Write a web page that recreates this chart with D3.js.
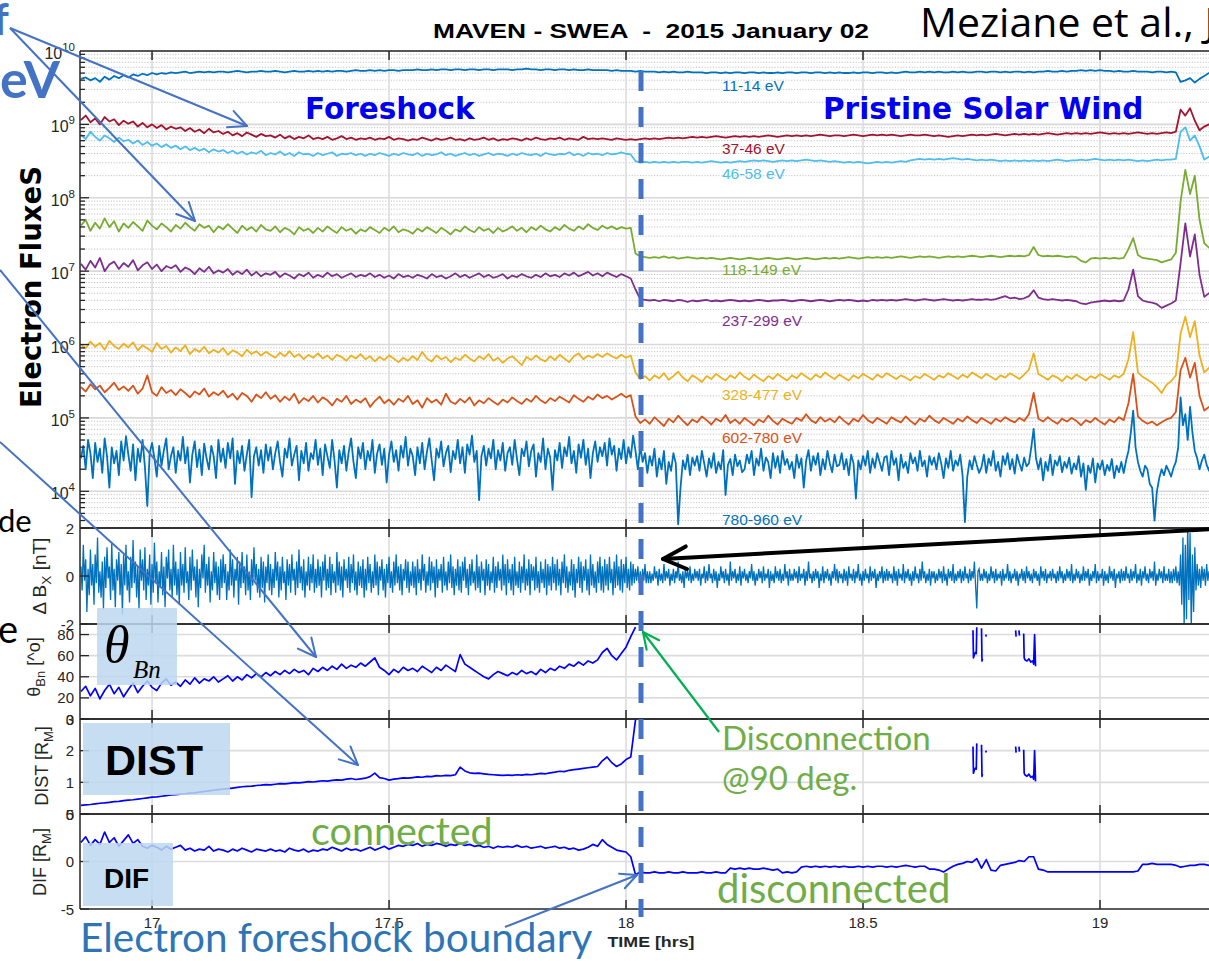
<!DOCTYPE html>
<html>
<head>
<meta charset="utf-8">
<script src="https://cdn.jsdelivr.net/npm/d3@7"></script>
<style>
  body { margin: 0; background: #fff; }
  svg { display: block; }
</style>
</head>
<body>
<svg id="chart" width="1209" height="961"></svg>
<script>
// ---------------------------------------------------------------
// MAVEN SWEA electron fluxes and magnetic connection parameters,
// 2015 January 02, 16.85 - 19.25 UT (hours).
// ---------------------------------------------------------------

// Sampling cadences (hours)
const sampleStart = 16.85;
const sampleStep = 0.01;     // most flux channels, DIF, θBn, DIST
const fastFluxStep = 0.005;  // 780-960 eV channel
const bxStep = 0.0025;       // ΔBx

// Energy channel names
const energyBands = ["11-14 eV", "37-46 eV", "46-58 eV", "118-149 eV",
                     "237-299 eV", "328-477 eV", "602-780 eV", "780-960 eV"];

// log10 of electron flux per channel (241 samples at 0.01 h)
const fluxLog11to14 = [
  9.62,9.64,9.60,9.63,9.58,9.65,9.61,9.66,9.63,9.67,
  9.64,9.68,9.66,9.69,9.67,9.70,9.68,9.70,9.69,9.71,
  9.70,9.71,9.72,9.70,9.71,9.72,9.71,9.72,9.71,9.72,
  9.72,9.71,9.72,9.73,9.72,9.71,9.72,9.72,9.73,9.72,
  9.72,9.73,9.72,9.71,9.72,9.73,9.72,9.72,9.73,9.72,
  9.73,9.72,9.73,9.72,9.73,9.73,9.72,9.73,9.74,9.73,
  9.73,9.74,9.73,9.74,9.73,9.74,9.74,9.73,9.74,9.74,
  9.74,9.75,9.74,9.74,9.75,9.74,9.75,9.75,9.74,9.75,
  9.75,9.74,9.75,9.75,9.74,9.75,9.75,9.74,9.75,9.75,
  9.75,9.74,9.75,9.75,9.76,9.75,9.75,9.74,9.75,9.75,
  9.74,9.75,9.75,9.74,9.75,9.74,9.74,9.75,9.74,9.74,
  9.74,9.74,9.73,9.74,9.73,9.73,9.73,9.72,9.73,9.72,
  9.72,9.72,9.71,9.72,9.71,9.72,9.71,9.71,9.72,9.71,
  9.71,9.71,9.70,9.71,9.71,9.70,9.71,9.70,9.71,9.71,
  9.70,9.71,9.71,9.70,9.71,9.70,9.70,9.71,9.70,9.71,
  9.71,9.70,9.71,9.71,9.70,9.71,9.71,9.70,9.71,9.70,
  9.71,9.70,9.70,9.71,9.70,9.71,9.71,9.70,9.71,9.71,
  9.70,9.71,9.70,9.71,9.72,9.71,9.71,9.72,9.71,9.72,
  9.71,9.72,9.71,9.71,9.72,9.71,9.72,9.71,9.71,9.72,
  9.72,9.71,9.72,9.72,9.71,9.72,9.71,9.72,9.72,9.71,
  9.72,9.71,9.72,9.72,9.73,9.72,9.72,9.73,9.72,9.73,
  9.73,9.74,9.73,9.74,9.73,9.74,9.73,9.73,9.72,9.73,
  9.72,9.72,9.73,9.72,9.72,9.72,9.71,9.72,9.72,9.71,
  9.72,9.71,9.58,9.60,9.63,9.57,9.62,9.66,9.70,9.71,
  9.71];

const fluxLog37to46 = [
  9.06,9.12,9.03,9.08,9.00,9.10,9.04,9.07,8.99,9.05,
  9.01,9.04,8.97,9.02,8.96,9.00,8.95,8.99,8.93,8.97,
  8.94,8.96,8.91,8.95,8.90,8.93,8.88,8.94,8.89,8.91,
  8.87,8.90,8.85,8.88,8.84,8.89,8.86,8.83,8.87,8.84,
  8.85,8.82,8.86,8.81,8.84,8.80,8.83,8.81,8.85,8.80,
  8.82,8.80,8.83,8.79,8.81,8.84,8.80,8.82,8.79,8.81,
  8.80,8.82,8.79,8.81,8.80,8.83,8.79,8.81,8.80,8.78,
  8.80,8.79,8.82,8.80,8.78,8.81,8.79,8.80,8.82,8.79,
  8.80,8.78,8.81,8.79,8.80,8.82,8.79,8.81,8.78,8.80,
  8.79,8.81,8.80,8.78,8.81,8.79,8.82,8.80,8.79,8.81,
  8.80,8.82,8.79,8.81,8.80,8.79,8.83,8.80,8.81,8.80,
  8.81,8.80,8.79,8.81,8.80,8.79,8.80,8.79,8.80,8.81,
  8.80,8.81,8.80,8.81,8.82,8.81,8.82,8.81,8.82,8.83,
  8.82,8.83,8.82,8.83,8.84,8.83,8.82,8.83,8.84,8.83,
  8.84,8.83,8.84,8.83,8.84,8.85,8.84,8.83,8.84,8.85,
  8.84,8.85,8.84,8.85,8.84,8.85,8.86,8.85,8.84,8.85,
  8.85,8.84,8.85,8.86,8.85,8.84,8.85,8.86,8.85,8.86,
  8.85,8.86,8.85,8.84,8.85,8.86,8.85,8.85,8.86,8.85,
  8.84,8.85,8.84,8.83,8.84,8.85,8.84,8.85,8.86,8.85,
  8.86,8.85,8.86,8.87,8.86,8.85,8.86,8.87,8.86,8.87,
  8.86,8.87,8.86,8.87,8.88,8.87,8.86,8.87,8.88,8.87,
  8.88,8.87,8.88,8.87,8.88,8.89,8.88,8.87,8.88,8.87,
  8.88,8.87,8.88,8.89,8.88,8.87,8.88,8.87,8.88,8.89,
  8.88,8.90,9.20,9.12,9.22,9.05,8.92,8.97,9.00,8.96,
  9.02];

const fluxLog46to58 = [
  8.86,8.80,8.90,8.83,8.78,8.85,8.81,8.76,8.82,8.77,
  8.79,8.74,8.78,8.72,8.76,8.71,8.74,8.69,8.73,8.68,
  8.71,8.66,8.70,8.65,8.68,8.64,8.67,8.62,8.66,8.63,
  8.65,8.61,8.64,8.60,8.63,8.59,8.62,8.60,8.64,8.58,
  8.61,8.59,8.63,8.58,8.61,8.57,8.62,8.59,8.60,8.57,
  8.61,8.58,8.60,8.62,8.57,8.60,8.59,8.61,8.58,8.60,
  8.57,8.60,8.58,8.61,8.59,8.57,8.60,8.58,8.61,8.59,
  8.58,8.61,8.57,8.60,8.58,8.59,8.62,8.58,8.60,8.57,
  8.59,8.61,8.58,8.60,8.57,8.59,8.61,8.58,8.60,8.59,
  8.57,8.60,8.58,8.61,8.59,8.58,8.60,8.57,8.61,8.59,
  8.58,8.60,8.59,8.62,8.58,8.60,8.57,8.61,8.59,8.60,
  8.58,8.61,8.59,8.60,8.62,8.60,8.59,8.50,8.48,8.49,
  8.48,8.49,8.48,8.49,8.48,8.49,8.48,8.49,8.49,8.48,
  8.49,8.48,8.49,8.50,8.49,8.48,8.49,8.48,8.49,8.50,
  8.49,8.50,8.51,8.50,8.51,8.50,8.49,8.50,8.51,8.50,
  8.51,8.50,8.51,8.52,8.51,8.50,8.51,8.50,8.49,8.50,
  8.49,8.48,8.49,8.48,8.49,8.48,8.47,8.48,8.49,8.48,
  8.49,8.48,8.49,8.50,8.49,8.51,8.52,8.53,8.52,8.53,
  8.52,8.53,8.52,8.53,8.54,8.53,8.52,8.53,8.52,8.51,
  8.52,8.51,8.52,8.51,8.50,8.51,8.50,8.51,8.50,8.51,
  8.50,8.51,8.50,8.51,8.50,8.51,8.52,8.51,8.50,8.51,
  8.51,8.52,8.51,8.52,8.53,8.52,8.51,8.52,8.51,8.52,
  8.51,8.52,8.51,8.50,8.51,8.50,8.51,8.52,8.51,8.52,
  8.52,8.53,8.90,8.96,8.78,8.85,8.70,8.52,8.56,8.55,
  8.57];

const fluxLog118to149 = [
  7.62,7.70,7.55,7.66,7.58,7.72,7.60,7.68,7.54,7.65,
  7.59,7.67,7.61,7.55,7.69,7.62,7.57,7.65,7.60,7.54,
  7.63,7.58,7.66,7.60,7.55,7.64,7.59,7.62,7.53,7.61,
  7.57,7.64,7.58,7.52,7.62,7.56,7.60,7.54,7.63,7.57,
  7.55,7.61,7.53,7.59,7.56,7.50,7.60,7.55,7.58,7.52,
  7.59,7.54,7.61,7.56,7.52,7.60,7.55,7.58,7.51,7.57,
  7.54,7.60,7.56,7.52,7.59,7.55,7.61,7.53,7.57,7.55,
  7.51,7.58,7.54,7.60,7.56,7.52,7.59,7.55,7.50,7.57,
  7.54,7.61,7.56,7.53,7.60,7.55,7.58,7.52,7.59,7.54,
  7.57,7.61,7.55,7.59,7.53,7.60,7.56,7.62,7.57,7.54,
  7.60,7.56,7.63,7.58,7.55,7.61,7.57,7.64,7.59,7.56,
  7.62,7.58,7.61,7.57,7.60,7.58,7.59,7.24,7.20,7.19,
  7.18,7.19,7.18,7.20,7.18,7.19,7.17,7.18,7.19,7.18,
  7.17,7.18,7.17,7.18,7.17,7.16,7.17,7.18,7.17,7.16,
  7.17,7.18,7.17,7.16,7.17,7.18,7.17,7.16,7.17,7.18,
  7.17,7.16,7.17,7.18,7.17,7.16,7.17,7.18,7.17,7.18,
  7.17,7.18,7.19,7.18,7.17,7.18,7.19,7.18,7.19,7.18,
  7.19,7.18,7.19,7.20,7.19,7.18,7.19,7.20,7.19,7.20,
  7.19,7.18,7.19,7.20,7.19,7.20,7.19,7.20,7.21,7.20,
  7.19,7.20,7.21,7.20,7.19,7.20,7.21,7.20,7.21,7.20,
  7.22,7.33,7.22,7.20,7.21,7.20,7.21,7.20,7.19,7.20,
  7.19,7.14,7.12,7.17,7.18,7.17,7.18,7.17,7.18,7.17,
  7.18,7.30,7.45,7.22,7.18,7.17,7.16,7.15,7.12,7.14,
  7.16,7.25,7.95,8.38,8.05,8.30,7.70,7.38,7.32,7.30,
  7.31];

const fluxLog237to299 = [
  7.10,7.02,7.14,7.05,7.18,7.00,7.09,7.13,7.03,7.11,
  7.06,7.15,7.01,7.08,7.12,7.03,7.09,7.00,7.07,7.04,
  7.08,6.99,7.05,7.02,6.96,7.04,6.99,7.06,6.97,7.01,
  6.98,7.03,6.95,7.00,6.96,7.02,6.94,6.99,6.93,6.97,
  6.95,6.99,6.92,6.97,6.94,6.90,6.96,6.93,6.98,6.91,
  6.95,6.92,6.98,6.93,6.96,6.91,6.94,6.97,6.92,6.95,
  6.93,6.97,6.92,6.95,6.91,6.94,6.90,6.96,6.92,6.94,
  6.91,6.95,6.93,6.90,6.96,6.92,6.94,6.90,6.93,6.97,
  6.92,6.95,6.91,6.94,6.97,6.92,6.95,6.91,6.93,6.96,
  6.90,6.94,6.92,6.96,6.93,6.91,6.95,6.92,6.97,6.93,
  6.95,6.92,6.97,6.94,6.98,6.93,6.96,6.99,6.94,6.97,
  6.93,6.98,6.95,6.92,6.96,6.93,6.90,6.75,6.62,6.61,
  6.60,6.61,6.59,6.61,6.60,6.59,6.61,6.60,6.58,6.60,
  6.59,6.60,6.61,6.59,6.60,6.59,6.60,6.61,6.60,6.59,
  6.60,6.59,6.60,6.61,6.60,6.59,6.60,6.60,6.61,6.60,
  6.59,6.60,6.61,6.60,6.59,6.60,6.61,6.60,6.59,6.60,
  6.61,6.60,6.61,6.60,6.59,6.60,6.59,6.61,6.60,6.61,
  6.60,6.61,6.60,6.61,6.62,6.61,6.60,6.61,6.62,6.61,
  6.60,6.61,6.62,6.61,6.60,6.61,6.60,6.61,6.62,6.61,
  6.61,6.62,6.61,6.62,6.64,6.66,6.63,6.64,6.62,6.63,
  6.66,6.74,6.64,6.62,6.61,6.62,6.61,6.60,6.61,6.60,
  6.59,6.56,6.55,6.57,6.58,6.59,6.60,6.59,6.60,6.59,
  6.60,6.75,7.02,6.66,6.60,6.58,6.57,6.55,6.50,6.53,
  6.56,6.60,7.11,7.65,7.20,7.50,6.95,6.65,6.70,6.68,
  6.72];

const fluxLog328to477 = [
  6.00,5.95,6.04,5.97,6.02,5.93,6.05,5.98,5.94,6.01,
  5.96,6.03,5.92,5.99,5.95,5.90,6.02,5.94,5.98,5.89,
  5.96,5.91,5.99,5.87,5.94,5.90,5.97,5.88,5.93,5.89,
  5.95,5.86,5.92,5.89,5.84,5.93,5.87,5.91,5.85,5.90,
  5.86,5.82,5.89,5.84,5.91,5.83,5.87,5.80,5.86,5.82,
  5.88,5.81,5.85,5.79,5.86,5.83,5.78,5.85,5.81,5.87,
  5.80,5.84,5.77,5.83,5.79,5.85,5.81,5.76,5.82,5.78,
  5.84,5.79,5.90,5.81,5.77,5.85,5.80,5.83,5.76,5.82,
  5.79,5.86,5.81,5.77,5.84,5.80,5.87,5.78,5.82,5.75,
  5.81,5.84,5.78,5.72,5.83,5.79,5.85,5.80,5.77,5.84,
  5.79,5.86,5.81,5.76,5.84,5.88,5.80,5.85,5.82,5.87,
  5.83,5.88,5.84,5.81,5.86,5.82,5.85,5.62,5.53,5.57,
  5.51,5.58,5.54,5.61,5.52,5.57,5.63,5.55,5.50,5.58,
  5.54,5.49,5.57,5.53,5.60,5.55,5.51,5.58,5.54,5.62,
  5.56,5.52,5.59,5.54,5.50,5.57,5.53,5.60,5.55,5.51,
  5.58,5.54,5.61,5.56,5.52,5.59,5.55,5.62,5.57,5.53,
  5.59,5.55,5.51,5.58,5.54,5.60,5.56,5.52,5.59,5.55,
  5.61,5.57,5.53,5.58,5.55,5.51,5.57,5.54,5.60,5.56,
  5.52,5.58,5.55,5.61,5.57,5.53,5.59,5.55,5.62,5.58,
  5.54,5.60,5.56,5.52,5.58,5.55,5.61,5.57,5.53,5.59,
  5.66,5.88,5.60,5.56,5.52,5.58,5.55,5.50,5.57,5.53,
  5.59,5.55,5.51,5.57,5.54,5.60,5.56,5.52,5.58,5.55,
  5.60,5.80,6.17,5.62,5.56,5.52,5.48,5.42,5.34,5.45,
  5.50,5.58,6.15,6.38,6.10,6.32,5.85,5.62,5.68,5.64,
  5.65];

const fluxLog602to780 = [
  5.42,5.36,5.46,5.39,5.44,5.35,5.41,5.48,5.38,5.43,
  5.37,5.44,5.33,5.40,5.58,5.35,5.30,5.42,5.34,5.38,
  5.31,5.39,5.34,5.28,5.36,5.32,5.40,5.29,5.35,5.31,
  5.37,5.28,5.33,5.25,5.34,5.30,5.22,5.32,5.27,5.35,
  5.26,5.31,5.22,5.29,5.24,5.33,5.20,5.27,5.23,5.30,
  5.21,5.28,5.24,5.17,5.26,5.22,5.30,5.19,5.25,5.21,
  5.27,5.15,5.23,5.29,5.20,5.25,5.18,5.26,5.22,5.30,
  5.19,5.24,5.14,5.27,5.21,5.25,5.18,5.33,5.22,5.19,
  5.26,5.21,5.28,5.17,5.24,5.20,5.27,5.22,5.18,5.25,
  5.21,5.28,5.23,5.19,5.26,5.22,5.30,5.24,5.20,5.27,
  5.23,5.29,5.25,5.21,5.31,5.26,5.22,5.29,5.25,5.32,
  5.27,5.30,5.25,5.29,5.33,5.28,5.31,5.02,4.93,4.98,
  4.92,5.01,4.95,4.89,4.99,4.94,5.03,4.96,4.90,4.98,
  4.94,5.02,4.97,4.91,4.99,4.95,5.04,4.93,4.98,4.92,
  5.00,4.95,4.90,4.98,4.94,5.03,4.96,4.91,4.99,4.95,
  4.92,5.00,4.96,5.05,4.97,4.93,5.01,4.95,4.99,4.94,
  5.02,4.96,4.91,4.99,4.95,5.04,4.97,4.93,5.00,4.96,
  4.92,5.01,4.97,4.94,5.02,4.96,4.91,4.99,4.95,5.03,
  4.97,4.93,5.00,4.96,4.92,4.99,4.95,5.02,4.97,4.93,
  5.00,4.96,4.92,4.99,4.95,5.01,4.97,4.94,5.00,4.96,
  5.05,5.34,4.99,4.95,5.01,4.96,4.92,4.99,4.95,5.00,
  4.96,4.90,4.97,4.94,5.00,4.95,4.91,4.98,4.94,5.01,
  4.97,5.20,5.60,5.02,4.96,4.92,4.95,4.90,4.94,4.98,
  5.00,5.08,5.65,5.82,5.55,5.75,5.30,5.10,5.15,5.08,
  5.10];

// 780-960 eV at 0.005 h (481 samples)
const fluxLog780to960 = [
  4.45,4.62,4.30,4.70,4.52,4.18,4.66,4.40,4.58,4.25,4.72,4.48,4.05,4.60,4.38,4.55,4.22,4.68,4.42,4.75,
  4.50,4.28,4.64,4.15,4.58,4.40,4.70,4.33,3.80,4.52,4.66,4.45,4.20,4.62,4.35,4.56,4.72,4.30,4.48,4.60,
  4.25,4.55,4.42,4.74,4.38,4.60,4.12,4.50,4.68,4.33,4.57,4.22,4.65,4.45,4.30,4.62,4.48,4.18,4.70,4.40,
  4.58,4.32,4.66,4.45,4.72,4.10,4.55,4.38,4.62,4.28,4.50,4.70,3.92,4.48,4.60,4.35,4.56,4.25,4.64,4.42,
  4.60,4.30,4.52,4.68,4.40,4.20,4.58,4.46,4.72,4.35,4.50,4.62,4.15,4.55,4.38,4.66,4.28,4.52,4.44,4.70,
  4.36,4.58,4.22,4.64,4.48,4.32,4.70,4.42,4.05,4.56,4.38,4.62,4.28,4.54,4.72,4.40,4.18,4.60,4.45,4.66,
  4.30,4.55,4.42,4.70,4.25,4.52,4.64,4.36,4.58,4.12,4.50,4.68,4.40,4.56,4.28,4.62,4.46,4.74,4.35,4.58,
  4.48,4.22,4.60,4.38,4.66,4.30,4.54,4.72,4.42,4.15,4.58,4.46,4.68,4.34,4.52,4.62,4.26,4.55,4.44,4.70,
  4.38,4.60,4.25,4.64,4.50,4.76,4.40,4.55,3.88,4.48,4.62,4.35,4.58,4.45,4.70,4.30,4.56,4.42,4.66,4.28,
  4.52,4.60,4.36,4.70,4.44,4.22,4.58,4.48,4.68,4.34,4.55,4.64,4.20,4.52,4.40,4.72,4.30,4.58,4.46,4.02,
  4.56,4.42,4.66,4.32,4.60,4.48,4.74,4.38,4.55,4.25,4.64,4.46,4.70,4.36,4.58,4.18,4.52,4.68,4.40,4.60,
  4.48,4.66,4.35,4.72,4.50,4.62,4.28,4.58,4.44,4.70,4.38,4.60,4.46,4.76,4.55,4.30,4.62,4.40,4.52,4.25,
  4.48,4.35,4.58,4.20,4.45,4.30,4.55,4.10,4.40,4.28,4.52,4.38,3.55,4.05,4.42,4.30,4.50,4.22,4.46,4.35,
  4.48,4.28,4.55,4.38,4.20,4.45,4.32,4.52,4.25,4.40,4.30,4.56,3.95,4.36,4.44,4.22,4.50,4.34,4.42,4.26,
  4.30,4.50,4.38,4.55,4.22,4.45,4.35,4.58,4.28,4.46,4.40,4.18,4.52,4.32,4.48,4.25,4.55,4.36,4.44,4.30,
  4.40,4.18,4.50,4.32,4.45,4.05,4.42,4.56,4.28,4.48,4.36,4.52,4.22,4.44,4.30,4.55,4.38,4.26,4.50,4.34,
  4.36,4.52,4.30,4.44,4.22,4.50,4.38,3.90,4.42,4.30,4.48,4.35,4.55,4.25,4.45,4.32,4.52,4.40,4.28,4.46,
  4.48,4.22,4.55,4.36,4.45,4.15,4.50,4.32,4.40,4.25,4.52,4.38,4.46,4.28,4.55,4.34,4.42,4.20,4.48,4.36,
  4.46,4.30,4.52,4.38,4.18,4.45,4.32,4.55,4.28,4.42,4.35,4.50,4.22,3.58,4.20,4.42,4.30,4.48,4.36,4.25,
  4.33,4.50,4.25,4.45,4.35,4.55,4.28,4.40,4.20,4.48,4.36,4.52,4.30,4.44,4.24,4.50,4.38,4.28,4.46,4.34,
  4.38,4.60,4.85,4.45,4.30,4.45,4.15,4.40,4.28,4.50,4.22,4.42,4.35,4.48,4.26,4.40,4.32,4.46,4.24,4.38,
  4.30,4.48,4.20,4.38,4.02,4.35,4.25,4.45,4.12,4.38,4.30,4.42,4.22,4.36,4.28,4.44,4.18,4.35,4.26,4.40,
  4.25,4.42,4.55,4.80,5.10,4.60,4.40,4.28,4.20,4.35,4.30,4.10,4.05,3.60,4.00,4.18,4.30,4.22,4.35,4.28,
  4.20,4.32,4.40,4.60,5.28,4.90,5.05,4.70,5.15,4.80,4.55,4.45,4.30,4.42,4.50,4.36,4.28,4.44,4.35,4.40,
  4.40];

// ΔBx [nT] at 0.0025 h (961 samples)
const deltaBx = [
  0.4,-0.6,1.3,-0.2,0.7,-1.5,0.3,-0.8,1.1,-0.4,0.5,-1.2,0.9,-0.3,1.6,-0.7,0.2,-0.9,0.6,-1.4,0.8,-0.5,1.2,-0.1,0.4,-1.0,1.4,-0.6,0.3,-1.3,0.7,-0.2,1.0,-0.8,0.5,-1.6,0.9,-0.4,1.3,-0.6,
  0.2,-1.1,0.8,-0.5,1.5,-0.3,0.6,-0.9,0.4,-1.4,1.1,-0.2,0.7,-0.6,1.2,-1.0,0.3,-0.4,0.9,-1.2,0.5,-0.7,1.4,-0.3,0.6,-1.1,0.2,-0.5,1.0,-0.8,0.4,-1.3,0.8,-0.1,1.1,-0.6,0.3,-0.9,1.3,-0.4,
  0.6,-0.8,0.3,-1.2,1.0,-0.4,0.5,-0.7,1.2,-0.3,0.2,-1.0,0.8,-0.6,1.1,-0.2,0.4,-0.9,0.7,-1.3,0.3,-0.5,0.9,-0.1,1.3,-0.7,0.5,-0.4,0.8,-1.1,0.2,-0.6,1.0,-0.3,0.6,-0.8,0.4,-1.0,0.7,-0.5,
  0.9,-0.3,0.5,-1.0,0.2,-0.6,1.1,-0.4,0.7,-0.9,0.3,-0.2,0.8,-1.2,0.6,-0.5,1.0,-0.3,0.4,-0.8,0.9,-0.6,0.2,-1.0,0.7,-0.4,1.2,-0.2,0.5,-0.7,0.3,-0.9,0.8,-0.5,0.6,-1.1,0.4,-0.3,0.9,-0.6,
  0.5,-0.8,0.3,-0.5,1.0,-0.2,0.6,-0.9,0.4,-0.6,0.8,-0.3,0.2,-1.0,0.7,-0.4,0.5,-0.7,0.9,-0.2,0.3,-0.8,0.6,-0.5,1.1,-0.3,0.4,-0.6,0.7,-0.9,0.2,-0.4,0.8,-0.6,0.5,-0.3,0.9,-0.7,0.3,-0.5,
  0.7,-0.4,0.4,-0.9,0.6,-0.2,0.9,-0.6,0.3,-0.5,0.8,-0.8,0.5,-0.3,0.2,-0.7,1.0,-0.4,0.6,-0.6,0.4,-0.9,0.7,-0.2,0.3,-0.5,0.8,-0.7,0.5,-0.3,0.9,-0.6,0.2,-0.8,0.6,-0.4,0.4,-0.5,0.7,-0.9,
  0.3,-0.6,0.8,-0.3,0.5,-0.7,0.2,-0.5,0.9,-0.4,0.6,-0.8,0.4,-0.2,0.7,-0.6,0.3,-0.9,0.5,-0.3,0.8,-0.5,0.2,-0.7,0.6,-0.4,0.9,-0.3,0.4,-0.6,0.5,-0.8,0.3,-0.2,0.7,-0.5,0.6,-0.7,0.2,-0.4,
  0.6,-0.5,0.4,-0.8,0.7,-0.3,0.3,-0.6,0.9,-0.2,0.5,-0.7,0.2,-0.4,0.8,-0.6,0.6,-0.3,0.4,-0.9,0.7,-0.5,0.3,-0.2,0.5,-0.7,0.8,-0.4,0.2,-0.6,0.6,-0.3,0.9,-0.5,0.4,-0.8,0.3,-0.4,0.7,-0.6,
  0.4,-0.7,0.6,-0.2,0.8,-0.5,0.3,-0.8,0.5,-0.4,0.7,-0.3,0.2,-0.6,0.9,-0.5,0.4,-0.7,0.6,-0.2,0.3,-0.8,0.7,-0.4,0.5,-0.6,0.2,-0.3,0.8,-0.7,0.4,-0.5,0.6,-0.2,0.3,-0.6,0.9,-0.4,0.5,-0.8,
  0.7,-0.3,0.3,-0.6,0.5,-0.8,0.8,-0.4,0.2,-0.5,0.6,-0.7,0.4,-0.3,0.9,-0.6,0.3,-0.4,0.7,-0.8,0.5,-0.2,0.4,-0.6,0.8,-0.5,0.2,-0.7,0.6,-0.3,0.3,-0.5,0.7,-0.8,0.5,-0.4,0.4,-0.6,0.8,-0.3,
  0.5,-0.6,0.7,-0.4,0.3,-0.8,0.6,-0.3,0.9,-0.5,0.4,-0.7,0.2,-0.4,0.7,-0.6,0.5,-0.9,0.3,-0.3,0.8,-0.5,0.6,-0.7,0.4,-0.2,0.7,-0.6,0.3,-0.8,0.9,-0.4,0.5,-0.5,0.2,-0.7,0.6,-0.3,0.8,-0.6,
  0.4,-0.7,0.7,-0.4,0.5,-0.6,0.8,-0.3,0.3,-0.8,0.6,-0.5,0.9,-0.4,0.4,-0.6,0.7,-0.7,0.5,-0.3,0.8,-0.5,0.3,-0.6,0.6,-0.4,0.5,-0.3,0.3,-0.2,0.4,-0.3,0.2,-0.4,0.3,-0.2,0.5,-0.3,0.2,-0.3,
  0.2,-0.3,0.1,-0.2,0.4,-0.1,0.2,-0.4,0.3,-0.2,0.1,-0.3,0.5,-0.2,0.2,-0.1,0.3,-0.4,0.1,-0.2,0.3,-0.3,0.2,-0.1,0.6,-0.2,0.1,-0.3,0.2,-0.5,0.3,-0.1,0.2,-0.2,0.4,-0.3,0.1,-0.2,0.3,-0.1,
  0.2,-0.2,0.3,-0.4,0.1,-0.1,0.4,-0.3,0.2,-0.2,0.5,-0.1,0.1,-0.3,0.3,-0.2,0.2,-0.5,0.1,-0.2,0.4,-0.1,0.2,-0.3,0.3,-0.2,0.1,-0.4,0.6,-0.2,0.2,-0.1,0.3,-0.3,0.1,-0.2,0.4,-0.4,0.2,-0.1,
  0.3,-0.2,0.1,-0.3,0.2,-0.1,0.5,-0.2,0.2,-0.4,0.1,-0.2,0.3,-0.1,0.2,-0.3,0.4,-0.2,0.1,-0.1,0.3,-0.5,0.2,-0.2,0.1,-0.3,0.4,-0.1,0.2,-0.2,0.3,-0.3,0.1,-0.2,0.5,-0.1,0.2,-0.4,0.3,-0.2,
  0.1,-0.2,0.3,-0.1,0.2,-0.3,0.4,-0.2,0.1,-0.1,0.3,-0.4,0.2,-0.2,0.6,-0.1,0.1,-0.3,0.2,-0.2,0.3,-0.1,0.2,-0.5,0.1,-0.2,0.4,-0.3,0.2,-0.1,0.3,-0.2,0.1,-0.4,0.2,-0.1,0.5,-0.2,0.3,-0.3,
  0.2,-0.1,0.1,-0.3,0.3,-0.2,0.2,-0.4,0.4,-0.1,0.1,-0.2,0.3,-0.3,0.2,-0.1,0.5,-0.2,0.1,-0.4,0.2,-0.2,0.3,-0.1,0.1,-0.3,0.4,-0.2,0.2,-0.1,0.3,-0.5,0.1,-0.2,0.2,-0.1,0.4,-0.3,0.2,-0.2,
  0.3,-0.2,0.2,-0.1,0.1,-0.3,0.4,-0.2,0.2,-0.4,0.3,-0.1,0.1,-0.2,0.5,-0.3,0.2,-0.1,0.3,-0.2,0.1,-0.4,0.2,-0.2,0.4,-0.1,0.1,-0.3,0.3,-0.2,0.6,-0.1,0.2,-0.3,0.1,-0.2,0.3,-0.4,0.2,-0.1,
  0.2,-0.3,0.1,-0.2,0.3,-0.1,0.2,-0.3,0.4,-0.2,0.1,-0.4,0.3,-0.1,0.2,-0.2,0.5,-0.3,0.1,-0.2,0.2,-0.1,0.3,-0.3,0.2,-0.2,0.4,-0.1,0.1,-0.3,0.3,-0.2,0.2,-0.1,0.6,-0.4,-1.35,0.2,0.3,-0.2,
  0.1,-0.2,0.3,-0.1,0.2,-0.3,0.1,-0.2,0.4,-0.1,0.2,-0.3,0.3,-0.2,0.1,-0.1,0.2,-0.4,0.3,-0.2,0.1,-0.1,0.5,-0.2,0.2,-0.3,0.1,-0.1,0.3,-0.2,0.2,-0.4,0.1,-0.1,0.3,-0.2,0.2,-0.3,0.4,-0.1,
  0.2,-0.2,0.1,-0.3,0.3,-0.1,0.2,-0.2,0.1,-0.4,0.4,-0.1,0.2,-0.2,0.3,-0.3,0.1,-0.1,0.2,-0.2,0.3,-0.1,0.1,-0.3,0.2,-0.2,0.4,-0.1,0.2,-0.3,0.1,-0.2,0.3,-0.1,0.2,-0.2,0.5,-0.3,0.1,-0.2,
  0.3,-0.1,0.2,-0.3,0.1,-0.2,0.4,-0.2,0.2,-0.1,0.3,-0.4,0.1,-0.2,0.2,-0.1,0.5,-0.3,0.2,-0.2,0.1,-0.1,0.3,-0.4,0.2,-0.2,0.1,-0.3,0.4,-0.1,0.2,-0.2,0.3,-0.5,0.1,-0.1,0.2,-0.3,0.3,-0.2,
  0.2,-0.2,0.4,-0.1,0.1,-0.3,0.3,-0.2,0.2,-0.1,0.5,-0.3,0.1,-0.2,0.3,-0.4,0.2,-0.1,0.4,-0.2,0.1,-0.3,0.3,-0.1,0.2,-0.2,0.6,-0.4,0.1,-0.2,0.3,-0.1,0.2,-0.3,0.4,-0.2,0.1,-0.2,0.3,-0.3,
  0.2,-0.3,0.3,-0.2,0.4,-0.3,0.2,-0.4,0.9,-1.2,1.6,-2.1,1.3,-1.8,2.2,-1.0,1.8,-2.2,0.9,-1.5,1.2,-0.6,0.5,-0.4,0.3,-0.5,0.4,-0.2,0.3,-0.4,0.5,-0.2,0.2,-0.3,0.4,-0.3,0.2,-0.2,0.3,-0.2,
  0.2];

// θBn [deg] and DIST [R_M] while connected (16.85 - 18.02 h, 118 samples)
const thetaBnConnected = [
  26,31,22,29,19,27,33,24,30,21,
  28,34,25,31,36,30,27,34,38,32,
  35,31,37,33,39,34,38,36,40,35,
  38,41,36,40,37,42,39,43,40,44,
  41,45,42,46,43,47,44,46,42,48,
  45,49,46,50,47,52,48,51,49,53,
  50,54,58,49,46,42,47,44,49,46,
  48,45,50,47,44,49,46,51,48,45,
  61,52,49,46,43,40,38,42,45,43,
  41,44,42,46,43,45,42,47,44,48,
  46,50,48,52,50,54,51,55,53,56,
  63,67,60,56,62,68,78,87];

const distConnected = [
  0.27,0.29,0.30,0.32,0.34,0.35,0.37,0.39,0.40,0.42,
  0.44,0.45,0.47,0.49,0.51,0.53,0.54,0.56,0.58,0.60,
  0.61,0.63,0.64,0.66,0.67,0.69,0.71,0.73,0.75,0.77,
  0.79,0.80,0.82,0.84,0.86,0.87,0.88,0.90,0.91,0.93,
  0.92,0.94,0.96,0.95,0.97,0.99,0.98,1.00,1.02,1.01,
  1.03,1.05,1.04,1.06,1.08,1.07,1.10,1.12,1.09,1.11,
  1.13,1.18,1.29,1.15,1.12,1.07,1.10,1.12,1.14,1.13,
  1.15,1.17,1.16,1.19,1.18,1.21,1.20,1.22,1.21,1.24,
  1.48,1.36,1.30,1.28,1.29,1.27,1.25,1.24,1.23,1.22,
  1.23,1.22,1.24,1.23,1.25,1.24,1.26,1.28,1.27,1.30,
  1.32,1.35,1.34,1.38,1.40,1.42,1.44,1.46,1.48,1.50,
  1.68,1.80,1.62,1.50,1.58,1.72,1.80,2.97];

// Brief reconnection intervals later on (explicit times, hours)
const lateTimes = [
  [18.732,18.733,18.735,18.737,18.739,18.740],
  [18.750,18.751,18.752],
  [18.759,18.760],
  [18.822,18.823],
  [18.829,18.830],
  [18.839,18.840,18.842,18.846,18.850,18.854,18.858,18.860,18.862,18.864]];
const lateTheta = [
  [84,58,61,63,62,87],
  [86,55,57],
  [80,78],
  [84,78],
  [84,79],
  [81,58,56,55,57,54,55,52,80,50]];
const lateDist = [
  [2.13,1.29,1.39,1.45,1.42,2.23],
  [2.19,1.19,1.26],
  [2.00,1.94],
  [2.13,1.94],
  [2.13,1.97],
  [2.03,1.29,1.23,1.19,1.26,1.16,1.19,1.10,2.00,1.03]];

// DIF [R_M] (241 samples at 0.01 h)
const difValues = [
  2.0,2.6,1.7,2.3,1.8,3.1,2.0,2.5,1.6,2.2,
  2.8,1.9,2.3,1.6,1.4,1.7,1.5,1.2,1.6,1.3,
  1.5,1.7,1.2,1.4,1.1,1.3,1.2,1.6,1.1,1.3,
  1.2,1.0,1.3,1.1,1.4,1.2,1.0,1.3,1.2,1.1,
  1.3,1.1,1.2,1.0,1.4,1.2,1.1,1.3,1.0,1.2,
  1.1,1.3,1.2,1.5,1.3,1.1,1.4,1.2,1.3,1.1,
  1.3,1.5,1.2,1.4,1.6,1.3,1.5,1.7,1.6,1.8,
  1.7,1.9,1.6,1.8,1.7,1.9,1.8,1.6,1.8,1.7,
  1.9,1.7,1.8,1.6,1.7,1.5,1.6,1.4,1.6,1.5,
  1.6,1.5,1.7,1.5,1.6,1.4,1.5,1.6,1.4,1.5,
  1.6,1.4,1.5,1.3,1.4,1.2,1.3,1.5,1.8,1.6,
  2.3,1.8,1.5,1.2,1.1,1.0,0.5,-1.4,-1.1,-1.2,
  -1.2,-1.1,-1.2,-1.2,-1.1,-1.2,-1.2,-1.1,-1.2,-1.2,
  -1.2,-1.1,-1.2,-1.2,-1.1,-1.2,-1.2,-0.7,-0.8,-0.7,
  -0.8,-0.7,-0.8,-0.8,-0.7,-0.8,-0.9,-0.8,-1.2,-1.1,
  -1.2,-1.1,-0.6,-0.5,-0.6,-0.5,-0.6,-0.5,-0.6,-0.5,
  -0.6,-0.5,-0.6,-0.6,-0.5,-0.6,-0.5,-0.6,-0.5,-0.5,
  -0.6,-0.5,-0.6,-0.5,-0.4,-0.5,-0.6,-0.5,-0.5,-0.8,
  -0.8,-0.9,-1.1,-0.8,-0.5,-0.3,-0.2,0.0,-0.1,0.3,
  -0.7,0.2,-0.9,-1.0,-0.4,-0.3,-0.2,-0.1,0.1,0.0,
  0.5,0.5,-0.8,-0.9,-1.1,-1.1,-1.1,-1.1,-1.1,-1.1,
  -1.1,-1.1,-1.1,-1.1,-1.1,-1.1,-1.1,-1.1,-1.1,-1.1,
  -1.1,-1.1,-1.1,-1.0,-0.3,-0.3,-0.2,-0.3,-0.3,-0.3,
  -0.3,-0.4,-0.6,-0.5,-0.4,-0.4,-0.3,-0.3,-0.4,-0.3,
  -0.3];

// Axis ticks
const timeTicks = [17, 17.5, 18, 18.5, 19];
const timeTickLabels = ["17", "17.5", "18", "18.5", "19"];
const fluxDecades = [4, 5, 6, 7, 8, 9, 10];
const bxTicks = [-2, 0, 2];
const thetaTicks = [0, 20, 40, 60, 80];
const distTicks = [0, 1, 2, 3];
const difTicks = [-5, 0, 5];

// ---------------------------------------------------------------
const svg = d3.select("#chart");
const W = 1209;
const AXIS = "#262626";
const SANS = "'Liberation Sans', Arial, Helvetica, sans-serif";
const SLIDE = "Lato, 'Open Sans', sans-serif";
const fluxColors = ["#0072BD", "#A2142F", "#4DBEEE", "#77AC30",
                    "#7E2F8E", "#EDB120", "#D95319", "#0072BD"];

const x = d3.scaleLinear().domain([16.848, 19.3]).range([80, 1242.2]);
const yFlux = d3.scaleLog().domain([Math.pow(10, 3.5), 1e10]).range([528, 51]);
const yBx = d3.scaleLinear().domain([-2, 2]).range([624, 528]);
const yTheta = d3.scaleLinear().domain([0, 90]).range([719, 624]);
const yDist = d3.scaleLinear().domain([0, 3]).range([814, 719]);
const yDif = d3.scaleLinear().domain([-5, 5]).range([909, 814]);

const panels = [
  { top: 51, bottom: 528 },
  { top: 528, bottom: 624 },
  { top: 624, bottom: 719 },
  { top: 719, bottom: 814 },
  { top: 814, bottom: 909 }
];

const timesFor = (n, step) => d3.range(n).map(i => sampleStart + i * step);

// clip paths per panel
const defs = svg.append("defs");
panels.forEach((p, i) => {
  defs.append("clipPath").attr("id", "clip" + i)
    .append("rect").attr("x", 80).attr("y", p.top)
    .attr("width", W - 80).attr("height", p.bottom - p.top);
});

// ---------- grid ----------
const grid = svg.append("g");
for (let e = 3; e < 10; e++) {
  for (let m = 1; m <= 9; m++) {
    const v = m * Math.pow(10, e);
    if (v < Math.pow(10, 3.5) || v > 1e10) continue;
    grid.append("line")
      .attr("x1", 80).attr("x2", W).attr("y1", yFlux(v)).attr("y2", yFlux(v))
      .attr("stroke", m === 1 ? "#d8d8d8" : "#c4c4c4")
      .attr("stroke-width", m === 1 ? 1.6 : 1)
      .attr("stroke-dasharray", m === 1 ? null : "1.2,1.6");
  }
}
grid.append("line").attr("x1", 80).attr("x2", W)
  .attr("y1", yFlux(1e10)).attr("y2", yFlux(1e10)).attr("stroke", "#d8d8d8");
[[yTheta, [20, 40, 60, 80]], [yDist, [1, 2]], [yDif, [0]], [yBx, [0]]].forEach(([ys, vals]) => {
  vals.forEach(v => grid.append("line")
    .attr("x1", 80).attr("x2", W).attr("y1", ys(v)).attr("y2", ys(v))
    .attr("stroke", "#dcdcdc").attr("stroke-width", 1.6));
});
timeTicks.forEach(t => grid.append("line")
  .attr("x1", x(t)).attr("x2", x(t)).attr("y1", 51).attr("y2", 909)
  .attr("stroke", "#dcdcdc").attr("stroke-width", 1.6));

// ---------- data ----------
const fluxSeries = [fluxLog11to14, fluxLog37to46, fluxLog46to58, fluxLog118to149,
                    fluxLog237to299, fluxLog328to477, fluxLog602to780, fluxLog780to960];
const fluxSteps = [sampleStep, sampleStep, sampleStep, sampleStep,
                   sampleStep, sampleStep, sampleStep, fastFluxStep];

const gFlux = svg.append("g").attr("clip-path", "url(#clip0)");
fluxSeries.forEach((vals, k) => {
  const ts = timesFor(vals.length, fluxSteps[k]);
  const line = d3.line().x((d, i) => x(ts[i])).y(d => yFlux(Math.pow(10, d)));
  gFlux.append("path").attr("d", line(vals))
    .attr("fill", "none").attr("stroke", fluxColors[k])
    .attr("stroke-width", 1.8).attr("stroke-linejoin", "round");
});

const bxTimes = timesFor(deltaBx.length, bxStep);
svg.append("g").attr("clip-path", "url(#clip1)")
  .append("path")
  .attr("d", d3.line().x((d, i) => x(bxTimes[i])).y(d => yBx(d))(deltaBx))
  .attr("fill", "none").attr("stroke", "#0072BD").attr("stroke-width", 1.3);

const connTimes = timesFor(thetaBnConnected.length, sampleStep);
const gTheta = svg.append("g").attr("clip-path", "url(#clip2)");
const gDist = svg.append("g").attr("clip-path", "url(#clip3)");
const thetaLine = d3.line().x(d => x(d[0])).y(d => yTheta(d[1]));
const distLine = d3.line().x(d => x(d[0])).y(d => yDist(d[1]));
const geoStyle = sel => sel.attr("fill", "none").attr("stroke", "#0000FF")
  .attr("stroke-width", 1.7).attr("stroke-linejoin", "round");

gTheta.append("path").attr("d", thetaLine(connTimes.map((t, i) => [t, thetaBnConnected[i]]))).call(geoStyle);
gDist.append("path").attr("d", distLine(connTimes.map((t, i) => [t, distConnected[i]]))).call(geoStyle);
lateTimes.forEach((ts, k) => {
  gTheta.append("path").attr("d", thetaLine(ts.map((t, i) => [t, lateTheta[k][i]]))).call(geoStyle);
  gDist.append("path").attr("d", distLine(ts.map((t, i) => [t, lateDist[k][i]]))).call(geoStyle);
});

const difTimes = timesFor(difValues.length, sampleStep);
svg.append("g").attr("clip-path", "url(#clip4)")
  .append("path")
  .attr("d", d3.line().x((d, i) => x(difTimes[i])).y(d => yDif(d))(difValues))
  .call(geoStyle);

// ---------- axes: frames, ticks, labels ----------
const axes = svg.append("g");
panels.forEach(p => {
  [p.top, p.bottom].forEach(yy => axes.append("line")
    .attr("x1", 80).attr("x2", W).attr("y1", yy).attr("y2", yy)
    .attr("stroke", AXIS).attr("stroke-width", 1.5));
  timeTicks.forEach(t => {
    axes.append("line").attr("x1", x(t)).attr("x2", x(t))
      .attr("y1", p.top).attr("y2", p.top + 9).attr("stroke", AXIS).attr("stroke-width", 1.5);
    axes.append("line").attr("x1", x(t)).attr("x2", x(t))
      .attr("y1", p.bottom).attr("y2", p.bottom - 9).attr("stroke", AXIS).attr("stroke-width", 1.5);
  });
});
axes.append("line").attr("x1", 80).attr("x2", 80).attr("y1", 51).attr("y2", 909)
  .attr("stroke", AXIS).attr("stroke-width", 1.5);

for (let e = 3; e < 10; e++) {
  for (let m = 1; m <= 9; m++) {
    const v = m * Math.pow(10, e);
    if (v < Math.pow(10, 3.5) || v > 1e10) continue;
    axes.append("line").attr("x1", 80).attr("x2", 80 + (m === 1 ? 9 : 5))
      .attr("y1", yFlux(v)).attr("y2", yFlux(v)).attr("stroke", AXIS).attr("stroke-width", 1.3);
  }
}
fluxDecades.forEach(e => {
  const t = axes.append("text").attr("x", 75).attr("y", yFlux(Math.pow(10, e)) + 8)
    .attr("text-anchor", "end").attr("font-family", SANS).attr("font-size", 16).attr("fill", AXIS);
  t.append("tspan").text("10");
  t.append("tspan").attr("dy", -8).attr("font-size", 11.5).text(e);
});

[[yBx, bxTicks], [yTheta, thetaTicks], [yDist, distTicks], [yDif, difTicks]].forEach(([ys, vals]) => {
  vals.forEach(v => {
    axes.append("line").attr("x1", 80).attr("x2", 89).attr("y1", ys(v)).attr("y2", ys(v))
      .attr("stroke", AXIS).attr("stroke-width", 1.3);
    axes.append("text").attr("x", 74).attr("y", ys(v) + 5.5)
      .attr("text-anchor", "end").attr("font-family", SANS).attr("font-size", 15)
      .attr("fill", AXIS).text(v);
  });
});

timeTicks.forEach((t, i) => axes.append("text")
  .attr("x", x(t)).attr("y", 928).attr("text-anchor", "middle")
  .attr("font-family", SANS).attr("font-size", 15).attr("fill", AXIS).text(timeTickLabels[i]));
axes.append("text").attr("x", 651).attr("y", 947).attr("text-anchor", "middle")
  .attr("font-family", SANS).attr("font-weight", "bold").attr("font-size", 15)
  .attr("fill", AXIS).attr("textLength", 87).attr("lengthAdjust", "spacingAndGlyphs")
  .text("TIME [hrs]");

// rotated axis titles
function yTitle(xBase, yCenter, parts, size) {
  const t = axes.append("text")
    .attr("transform", `translate(${xBase},${yCenter}) rotate(-90)`)
    .attr("text-anchor", "middle").attr("font-family", SANS)
    .attr("font-size", size).attr("fill", AXIS)
    .style("white-space", "pre");
  let shifted = false;
  parts.forEach(p => {
    const ts = t.append("tspan").text(p[0]);
    if (p[1] === "sub") { ts.attr("dy", 5).attr("font-size", size * 0.72); shifted = true; }
    else if (shifted) { ts.attr("dy", -5); shifted = false; }
  });
  return t;
}
yTitle(46, 576, [["Δ B"], ["X", "sub"], [" [nT]"]], 19);
yTitle(40, 667, [["θ"], ["Bn", "sub"], [" [^o]"]], 18);
yTitle(48, 766, [["DIST [R"], ["M", "sub"], ["]"]], 18);
yTitle(46, 862, [["DIF [R"], ["M", "sub"], ["]"]], 18);

svg.append("text")
  .attr("transform", "translate(41,287) rotate(-90)")
  .attr("text-anchor", "middle").attr("font-family", "'DejaVu Sans', Verdana, sans-serif")
  .attr("font-weight", "bold").attr("font-size", 27.5).attr("fill", "#000")
  .text("Electron FluxeS");

svg.append("text").attr("x", 651).attr("y", 38).attr("text-anchor", "middle")
  .attr("font-family", SANS).attr("font-weight", "bold").attr("font-size", 21)
  .attr("textLength", 436).attr("lengthAdjust", "spacingAndGlyphs")
  .style("white-space", "pre").attr("fill", "#000")
  .text("MAVEN - SWEA  -  2015 January 02");

const bandLabelY = [91, 154, 179, 275, 326, 400, 443, 525];
energyBands.forEach((lab, k) => svg.append("text")
  .attr("x", 722).attr("y", bandLabelY[k]).attr("font-family", SANS)
  .attr("font-size", 15.5).attr("fill", fluxColors[k]).text(lab));

// ---------- annotations ----------
const ann = svg.append("g");

ann.append("line").attr("x1", 641).attr("x2", 641).attr("y1", 71).attr("y2", 917)
  .attr("stroke", "#4472C4").attr("stroke-width", 5).attr("stroke-dasharray", "20,16");

const boxFill = "#BDD7EE";
ann.append("rect").attr("x", 97).attr("y", 608).attr("width", 80).attr("height", 77)
  .attr("fill", boxFill).attr("opacity", 0.85);
ann.append("rect").attr("x", 83).attr("y", 723).attr("width", 147).attr("height", 72)
  .attr("fill", boxFill).attr("opacity", 0.85);
ann.append("rect").attr("x", 83).attr("y", 843).attr("width", 90).attr("height", 63)
  .attr("fill", boxFill).attr("opacity", 0.85);

ann.append("text").attr("x", 104).attr("y", 662)
  .attr("font-family", "'Liberation Serif', 'Times New Roman', serif")
  .attr("font-style", "italic").attr("font-size", 52).attr("fill", "#000").text("θ");
ann.append("text").attr("x", 133).attr("y", 678)
  .attr("font-family", "'Liberation Serif', 'Times New Roman', serif")
  .attr("font-style", "italic").attr("font-size", 25).attr("fill", "#000").text("Bn");
ann.append("text").attr("x", 105).attr("y", 775).attr("font-family", SANS)
  .attr("font-weight", "bold").attr("font-size", 43).attr("fill", "#000").text("DIST");
ann.append("text").attr("x", 104).attr("y", 888).attr("font-family", SANS)
  .attr("font-weight", "bold").attr("font-size", 28).attr("fill", "#000").text("DIF");

ann.append("text").attr("x", 305).attr("y", 119)
  .attr("font-family", "'DejaVu Sans', Verdana, sans-serif").attr("font-weight", "bold")
  .attr("font-size", 29.5).attr("fill", "#0000F0").text("Foreshock");
ann.append("text").attr("x", 823).attr("y", 119)
  .attr("font-family", "'DejaVu Sans', Verdana, sans-serif").attr("font-weight", "bold")
  .attr("font-size", 29.5).attr("fill", "#0000F0").text("Pristine Solar Wind");

ann.append("text").attr("x", 920).attr("y", 37).attr("font-family", "'Open Sans', sans-serif")
  .attr("font-size", 41).attr("fill", "#000").text("Meziane et al., JGR");
ann.append("text").attr("x", -7).attr("y", 35).attr("font-family", SLIDE)
  .attr("font-weight", "bold").attr("font-size", 44).attr("fill", "#4472C4").text("f");
ann.append("text").attr("x", 0).attr("y", 98).attr("font-family", SLIDE)
  .attr("font-weight", "bold").attr("font-size", 52).attr("fill", "#4472C4").text("eV");
ann.append("text").attr("x", -2).attr("y", 532).attr("font-family", SLIDE)
  .attr("font-size", 31).attr("fill", "#000").text("de");
ann.append("text").attr("x", -2).attr("y", 643).attr("font-family", SLIDE)
  .attr("font-size", 38).attr("fill", "#000").text("e");

const green = "#70AD47";
ann.append("text").attr("x", 722).attr("y", 750).attr("font-family", SLIDE)
  .attr("font-size", 33).attr("fill", green).text("Disconnection");
ann.append("text").attr("x", 722).attr("y", 790).attr("font-family", SLIDE)
  .attr("font-size", 33).attr("fill", green).text("@90 deg.");
ann.append("text").attr("x", 311).attr("y", 845).attr("font-family", SLIDE)
  .attr("font-size", 39.5).attr("fill", green).text("connected");
ann.append("text").attr("x", 717).attr("y", 903).attr("font-family", SLIDE)
  .attr("font-size", 40).attr("fill", green).text("disconnected");
ann.append("text").attr("x", 80).attr("y", 952).attr("font-family", SLIDE)
  .attr("font-size", 40.5).attr("fill", "#2E75B6").text("Electron foreshock boundary");

function arrow(x1, y1, x2, y2, color, width, head) {
  ann.append("line").attr("x1", x1).attr("y1", y1).attr("x2", x2).attr("y2", y2)
    .attr("stroke", color).attr("stroke-width", width);
  const a = Math.atan2(y2 - y1, x2 - x1);
  [0.45, -0.45].forEach(d => ann.append("line")
    .attr("x1", x2).attr("y1", y2)
    .attr("x2", x2 - head * Math.cos(a + d)).attr("y2", y2 - head * Math.sin(a + d))
    .attr("stroke", color).attr("stroke-width", width).attr("stroke-linecap", "round"));
}
const lineBlue = "#4472C4";
arrow(10, 28, 247, 126, lineBlue, 2, 20);
arrow(10, 28, 195, 221, lineBlue, 2, 20);
arrow(0, 270, 316, 657, lineBlue, 2, 20);
arrow(0, 442, 358, 765, lineBlue, 2, 20);
arrow(505, 927, 637, 875, lineBlue, 2, 18);
arrow(719, 732, 643, 632, "#00B050", 2.2, 18);
arrow(1215, 529, 663, 559, "#000", 4, 26);
</script>
</body>
</html>
